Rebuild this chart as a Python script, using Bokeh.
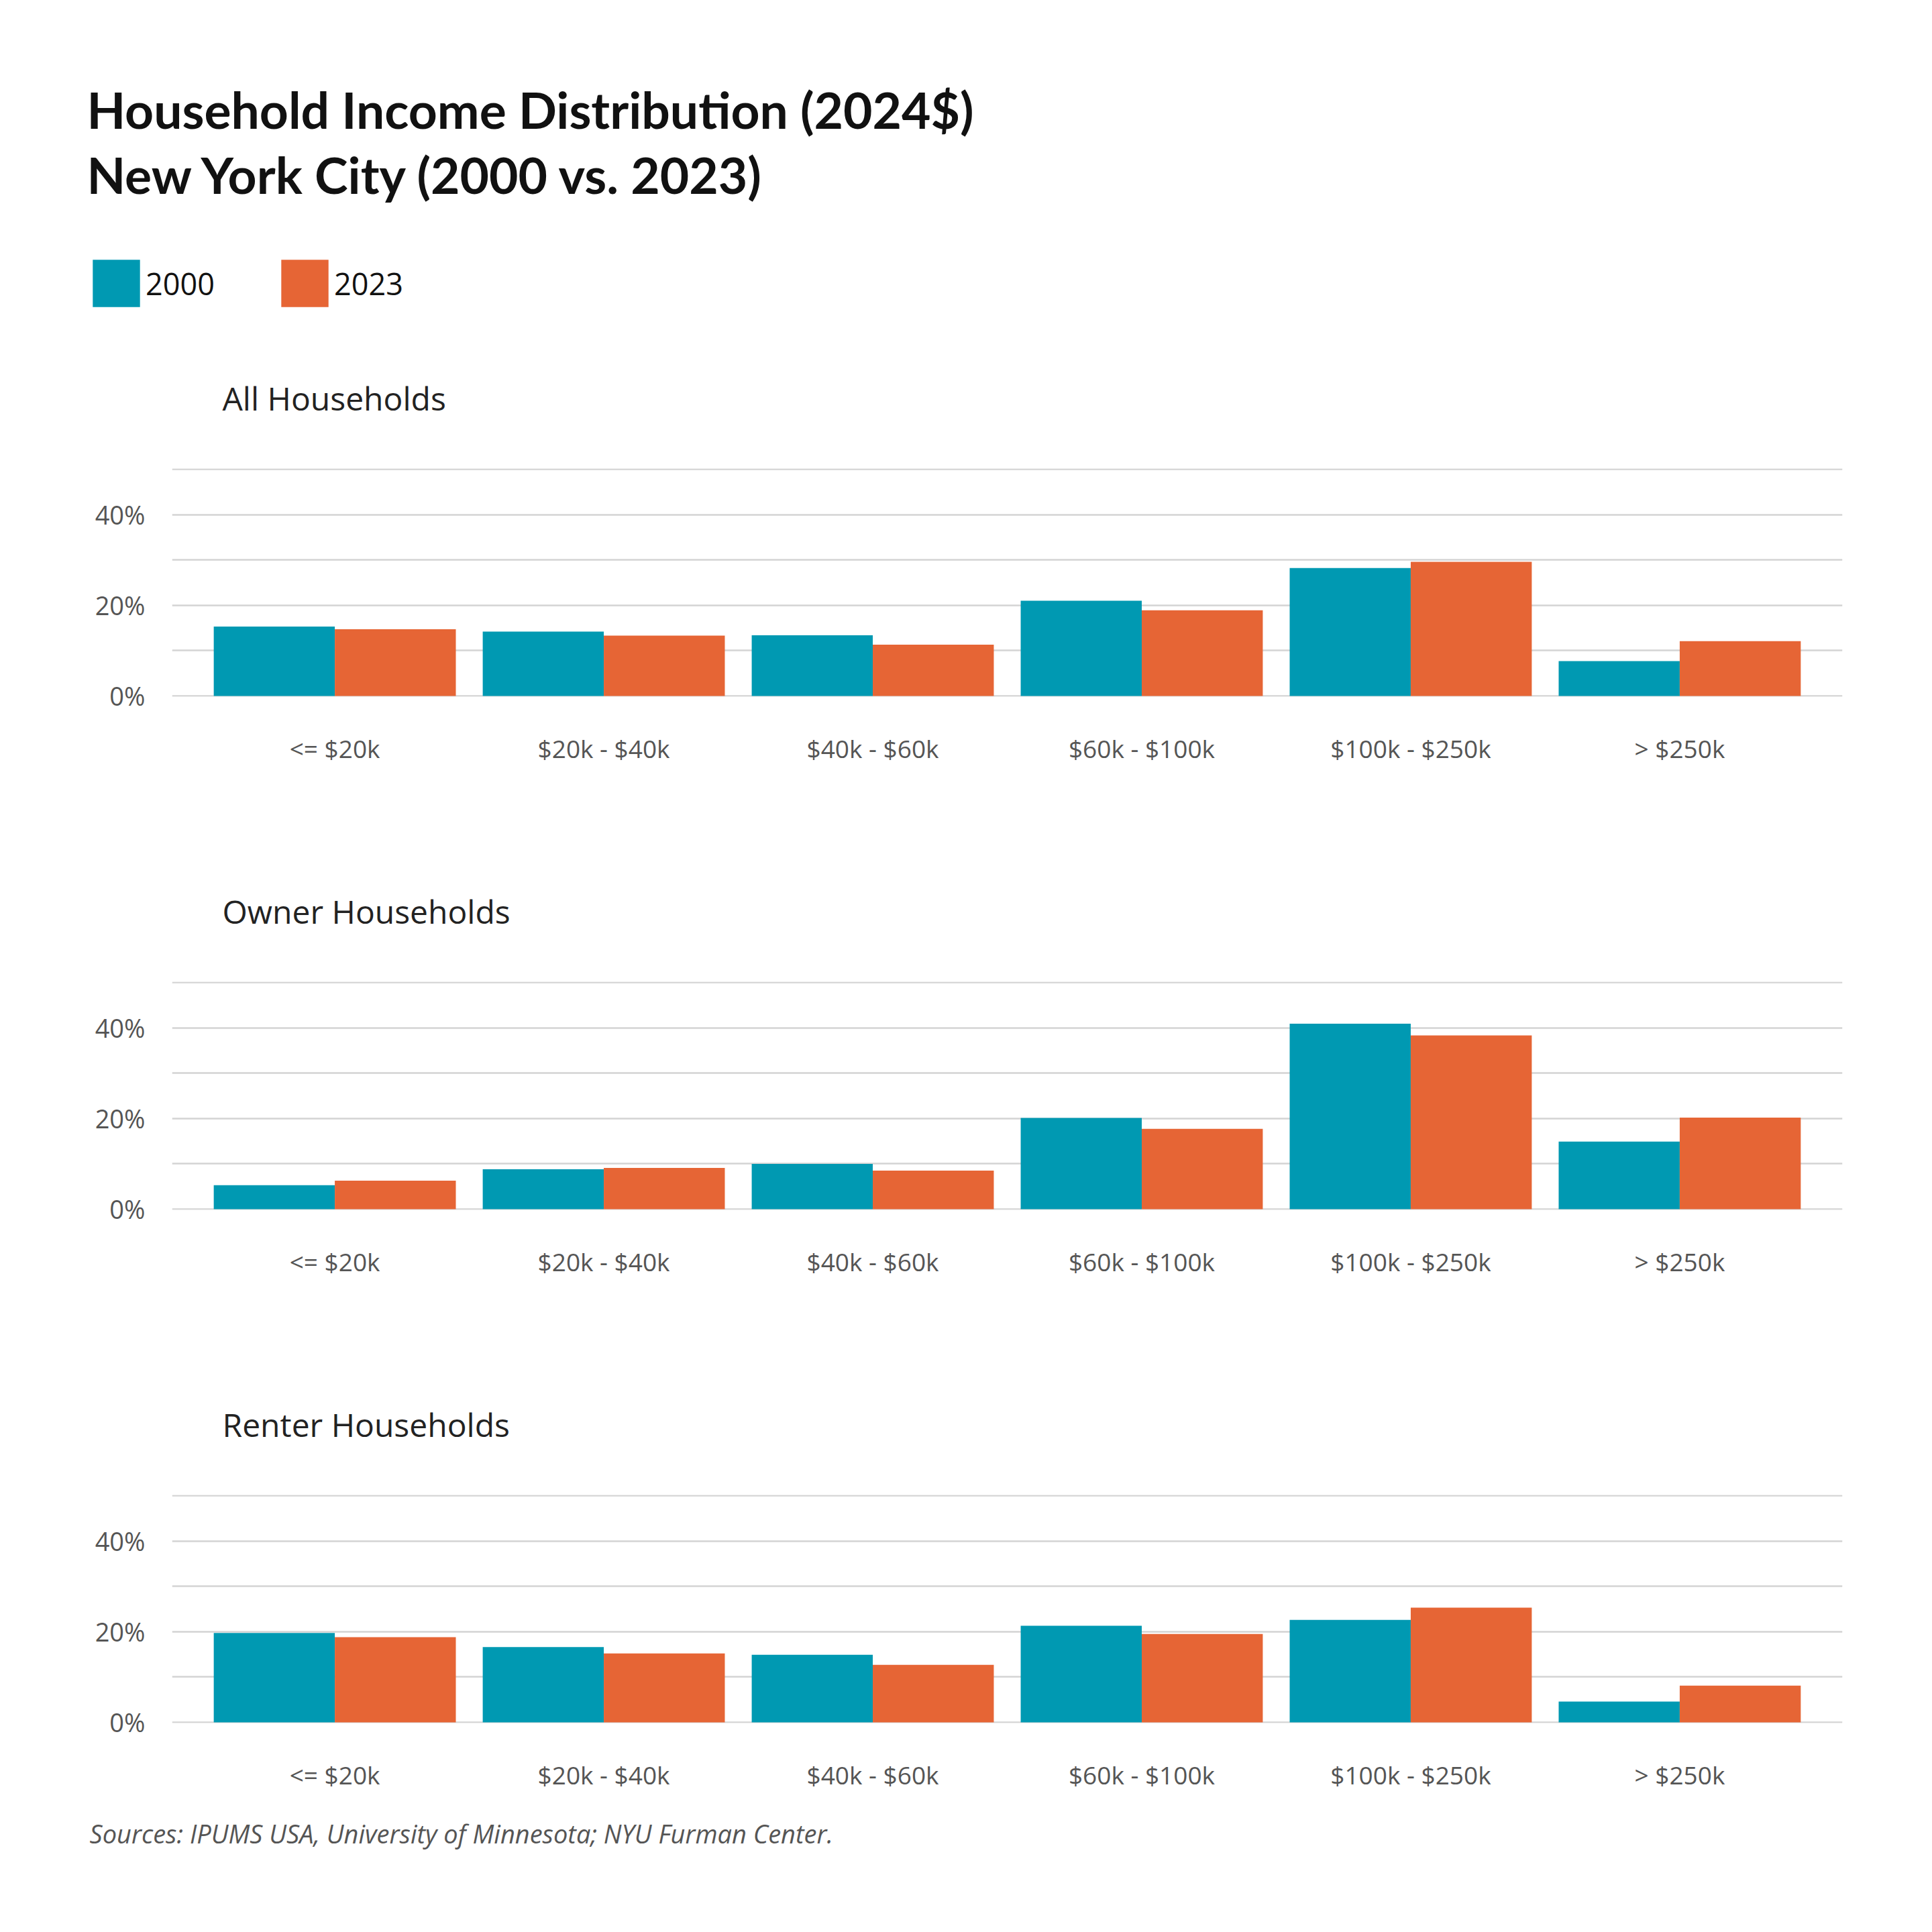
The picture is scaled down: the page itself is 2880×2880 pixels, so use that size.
import numpy as np
from bokeh.plotting import figure
from bokeh.models import (FactorRange, Range1d, FixedTicker, PrintfTickFormatter,
                          Label, Legend, LegendItem, ColumnDataSource)
from bokeh.layouts import column
from bokeh.transform import dodge
from bokeh.embed import file_html
from bokeh.resources import INLINE

# ---------------- data ----------------
categories = ["<= $20k", "$20k - $40k", "$40k - $60k", "$60k - $100k", "$100k - $250k", "> $250k"]
years = ["2000", "2023"]
all_2000 = [15.3, 14.2, 13.4, 21.0, 28.2, 7.7]
all_2023 = [14.7, 13.3, 11.3, 18.9, 29.6, 12.1]
owner_2000 = [5.3, 8.8, 10.0, 20.1, 40.9, 14.9]
owner_2023 = [6.3, 9.1, 8.5, 17.7, 38.3, 20.2]
renter_2000 = [19.7, 16.6, 14.9, 21.3, 22.6, 4.6]
renter_2023 = [18.8, 15.2, 12.7, 19.5, 25.3, 8.1]
panel_titles = ["All Households", "Owner Households", "Renter Households"]
y_label_ticks = [0, 20, 40]
grid_ticks = [0, 10, 20, 30, 40, 50]
title_lines = ["Household Income Distribution (2024$)", "New York City (2000 vs. 2023)"]
source_text = "Sources: IPUMS USA, University of Minnesota; NYU Furman Center."

# ---------------- style ----------------
W = 2860
LB, RB = 256, 114
TOP = 240            # space above each panel frame (subtitle area)
TEAL = "#0099B2"
ORANGE = "#E66535"
GRID = "#d4d4d4"
TICK = "#555555"
FONT = "Open Sans"
TFONT = "Lato"


def blank(height):
    f = figure(width=W, height=height, x_range=Range1d(0, W), y_range=Range1d(0, height),
               x_axis_type=None, y_axis_type=None, min_border=0, frame_align=False,
               output_backend="svg", toolbar_location=None)
    f.grid.visible = False
    f.outline_line_color = None
    return f


# ---------------- header ----------------
HH = 458
header = blank(HH)
for txt, ytop in [(title_lines[0], 162), (title_lines[1], 259)]:
    header.add_layout(Label(x=137 - 8, y=HH - ytop, text=txt, text_font=TFONT,
                            text_font_style="bold", text_font_size="75px",
                            text_color="#111111", text_baseline="alphabetic"))
# swatch carriers for the legend (nothing visible in the plot area)
nan_src = ColumnDataSource(dict(x=[0.0], top=np.array([np.nan])))
r0 = header.vbar(x="x", top="top", width=1, source=nan_src, fill_color=TEAL, line_color=None)
r1 = header.vbar(x="x", top="top", width=1, source=nan_src, fill_color=ORANGE, line_color=None)
GW = 88              # legend glyph box (area swatch is drawn at 80% of it, top-left)
for rend, yr, lx in [(r0, years[0], 137), (r1, years[1], 418)]:
    leg = Legend(items=[LegendItem(label=yr, renderers=[rend])],
                 location=(lx - 8, HH - (386 - 8 + GW)),
                 orientation="horizontal", glyph_width=GW, glyph_height=GW, label_height=GW,
                 label_standoff=-7, padding=0, margin=0, border_line_color=None,
                 background_fill_alpha=0, label_text_font=FONT, label_text_font_size="45px",
                 label_text_color="#111111", label_text_baseline="middle")
    header.add_layout(leg, "center")


# ---------------- panels ----------------
def panel(title, v2000, v2023, height, bottom):
    src = ColumnDataSource(dict(cat=categories, y2000=v2000, y2023=v2023))
    xr = FactorRange(factors=categories, range_padding=0.105, range_padding_units="absolute")
    p = figure(width=W, height=height, x_range=xr, y_range=Range1d(-0.15, 50.15),
               output_backend="svg", toolbar_location=None,
               min_border_left=LB, min_border_right=RB, min_border_top=TOP,
               min_border_bottom=bottom)
    p.vbar(x=dodge("cat", -0.225, range=xr), top="y2000", width=0.45, source=src,
           fill_color=TEAL, line_color=None)
    p.vbar(x=dodge("cat", 0.225, range=xr), top="y2023", width=0.45, source=src,
           fill_color=ORANGE, line_color=None)
    p.outline_line_color = None
    p.xgrid.visible = False
    p.yaxis.ticker = FixedTicker(ticks=y_label_ticks)
    p.yaxis.formatter = PrintfTickFormatter(format="%d%%")
    p.ygrid.ticker = FixedTicker(ticks=grid_ticks)
    p.ygrid.grid_line_color = GRID
    p.ygrid.grid_line_width = 2.5
    for ax in (p.xaxis, p.yaxis):
        ax.axis_line_color = None
        ax.major_tick_line_color = None
        ax.minor_tick_line_color = None
        ax.major_tick_in = 0
        ax.major_tick_out = 0
        ax.major_label_text_font = FONT
        ax.major_label_text_color = TICK
    p.xaxis.major_label_text_font_size = "37px"
    p.yaxis.major_label_text_font_size = "38px"
    p.yaxis.major_label_standoff = 40
    p.xaxis.major_label_standoff = 51
    p.title.text = title
    p.title.text_font = FONT
    p.title.text_font_size = "48px"
    p.title.text_font_style = "normal"
    p.title.text_color = "#222222"
    p.title.align = "left"
    p.title.offset = 75
    p.title.standoff = 146
    return p


p1 = panel(panel_titles[0], all_2000, all_2023, TOP + 340 + 185, 185)
p2 = panel(panel_titles[1], owner_2000, owner_2023, TOP + 340 + 185, 185)
p3 = panel(panel_titles[2], renter_2000, renter_2023, TOP + 340 + 110, 110)

footer = blank(100)
footer.add_layout(Label(x=133, y=46, text=source_text, text_font=FONT,
                        text_font_style="italic", text_font_size="38px",
                        text_color="#555555", text_baseline="middle"))

layout = column(header, p1, p2, p3, footer, spacing=0)
open("out.html", "w").write(file_html(layout, INLINE))
